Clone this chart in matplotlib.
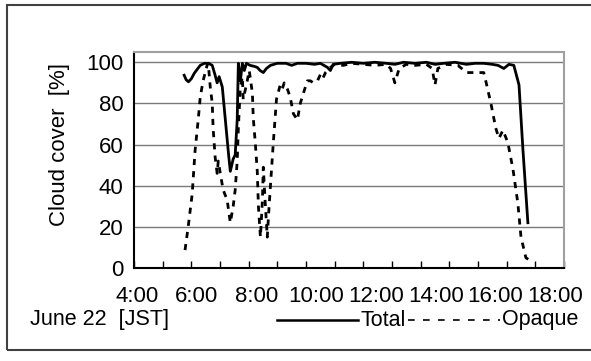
import matplotlib
matplotlib.use("Agg")
import matplotlib.pyplot as plt
import numpy as np
from matplotlib.lines import Line2D
from matplotlib.patches import Rectangle
from matplotlib.transforms import blended_transform_factory

plt.rcParams['font.family'] = ['Liberation Sans', 'DejaVu Sans']

# Total cloud cover [%] vs. local hour (JST)
total_hours = [5.75, 5.82, 5.90, 6.00, 6.10, 6.20, 6.31, 6.45, 6.60, 6.73,
               6.83, 6.90, 6.97, 7.08, 7.20, 7.30, 7.36, 7.46, 7.53, 7.60,
               7.64, 7.71, 7.78, 7.85, 7.92, 8.05, 8.20, 8.30, 8.40, 8.51,
               8.62, 8.76, 9.00, 9.30, 9.50, 9.70, 10.00, 10.30, 10.50, 10.75,
               10.85, 10.95, 11.20, 11.60, 12.00, 12.40, 12.80, 13.10, 13.40, 13.80,
               14.20, 14.50, 14.80, 15.20, 15.60, 15.90, 16.20, 16.50, 16.70, 16.90,
               17.08, 17.25, 17.43, 17.57, 17.74]
total_cover = [93.7, 91.5, 90.5, 92.0, 94.6, 96.5, 98.5, 99.5, 99.5, 98.5,
               93.7, 90.0, 93.0, 88.0, 70.0, 55.0, 47.0, 53.0, 55.0, 72.0,
               99.5, 91.0, 99.5, 96.0, 99.5, 98.5, 98.0, 97.5, 96.0, 95.0,
               97.0, 98.5, 99.5, 99.5, 98.5, 99.5, 99.5, 99.0, 99.5, 97.5,
               96.0, 99.0, 99.5, 100.0, 99.5, 100.0, 99.5, 99.0, 100.0, 99.5,
               100.0, 99.0, 99.5, 100.0, 99.0, 99.5, 99.5, 99.0, 98.5, 97.0,
               99.0, 98.5, 89.0, 57.0, 22.0]

# Opaque cloud cover [%]
opaque_hours = [5.78, 5.89, 6.03, 6.13, 6.24, 6.31, 6.41, 6.55, 6.59, 6.66,
                6.73, 6.76, 6.83, 6.90, 6.94, 7.01, 7.11, 7.25, 7.36, 7.46,
                7.53, 7.60, 7.64, 7.71, 7.78, 7.81, 7.95, 8.02, 8.13, 8.16,
                8.23, 8.30, 8.34, 8.41, 8.48, 8.51, 8.58, 8.65, 8.69, 8.76,
                8.86, 8.97, 9.10, 9.17, 9.24, 9.35, 9.45, 9.56, 9.70, 9.80,
                9.91, 10.05, 10.15, 10.26, 10.40, 10.50, 10.58, 10.68, 10.85, 11.00,
                11.30, 11.60, 12.00, 12.40, 12.80, 12.95, 13.10, 13.25, 13.50, 13.80,
                14.20, 14.40, 14.50, 14.60, 14.90, 15.30, 15.60, 16.00, 16.20, 16.27,
                16.45, 16.62, 16.73, 16.87, 17.04, 17.22, 17.39, 17.50, 17.67, 17.78]
opaque_cover = [8.7, 20.0, 36.0, 57.0, 72.0, 83.0, 91.0, 98.5, 99.5, 88.0,
                80.0, 68.0, 54.0, 46.0, 52.0, 46.0, 38.0, 33.0, 22.0, 30.0,
                38.0, 52.0, 68.0, 88.0, 93.0, 82.0, 91.0, 96.0, 85.0, 73.0,
                61.0, 47.0, 30.0, 15.0, 33.0, 49.0, 31.0, 15.0, 25.0, 40.0,
                61.0, 82.0, 89.0, 87.0, 90.0, 87.0, 83.0, 75.0, 72.0, 80.0,
                85.0, 91.0, 91.0, 90.0, 91.0, 94.0, 92.0, 95.0, 97.5, 99.0,
                98.5, 99.5, 99.0, 98.5, 99.0, 97.0, 90.0, 97.0, 99.0, 98.5,
                99.0, 97.0, 89.0, 97.0, 99.0, 98.5, 95.0, 95.0, 95.0, 91.0,
                80.0, 68.0, 63.0, 67.0, 61.0, 48.0, 31.5, 15.0, 5.0, 4.0]

hour_ticks = list(range(4, 20))
hour_labels = ['4:00', '6:00', '8:00', '10:00', '12:00', '14:00', '16:00', '18:00']
y_ticks = [0, 20, 40, 60, 80, 100]

W, H = 591, 361
fig = plt.figure(figsize=(W / 100, H / 100), dpi=100)
ax = fig.add_axes([134 / W, 1 - 268 / H, 430 / W, 216 / H])

ax.plot(total_hours, total_cover, color='black', lw=2.0, zorder=3)
ax.plot(opaque_hours, opaque_cover, color='black', lw=2.0,
        dashes=(2.2, 2.2), zorder=3)

ax.set_xlim(4, 19)
ax.set_ylim(0, 105)
ax.set_yticks(y_ticks)
ax.set_yticklabels([str(v) for v in y_ticks], fontsize=16)
ax.tick_params(axis='y', length=0, pad=7.5)
ax.set_xticks(hour_ticks)
ax.set_xticklabels([])
ax.tick_params(axis='x', direction='in', length=5, width=1, color='black')
ax.grid(axis='y', color='#7a7a7a', lw=1)
ax.set_axisbelow(True)

for side in ('top', 'right'):
    ax.spines[side].set_color('#a0a0a0')
    ax.spines[side].set_linewidth(1.5)
for side in ('left', 'bottom'):
    ax.spines[side].set_color('black')
    ax.spines[side].set_linewidth(1.5)

# hour labels sit slightly off the tick marks
trans = blended_transform_factory(ax.transData, ax.transAxes)
for x, lab in zip(np.linspace(4.1, 18.7, len(hour_labels)), hour_labels):
    ax.text(x, -0.13, lab, transform=trans, ha='center', va='center',
            fontsize=16, clip_on=False)

fig.text(60 / W, 1 - 145 / H, 'Cloud cover  [%]', rotation=90,
         ha='center', va='center', fontsize=16)
fig.text(30 / W, 1 - 320 / H, 'June 22  [JST]', ha='left', va='center',
         fontsize=15.5)

# legend drawn by hand along the bottom row
fig.add_artist(Line2D([277 / W, 358 / W], [1 - 320 / H, 1 - 320 / H],
                      color='black', lw=1.8))
fig.text(360 / W, 1 - 320 / H, 'Total', ha='left', va='center', fontsize=15.5)
fig.add_artist(Line2D([408 / W, 500 / W], [1 - 320 / H, 1 - 320 / H],
                      color='black', lw=1.2, dashes=(4, 5)))
fig.text(502 / W, 1 - 320 / H, 'Opaque', ha='left', va='center', fontsize=15.5)

# outer frame
fig.add_artist(Rectangle((7 / W, 1 - 350 / H), 590 / W, 345 / H,
                         transform=fig.transFigure, fill=False,
                         edgecolor='#404040', lw=1.5))

fig.savefig('out.png', dpi=100)
